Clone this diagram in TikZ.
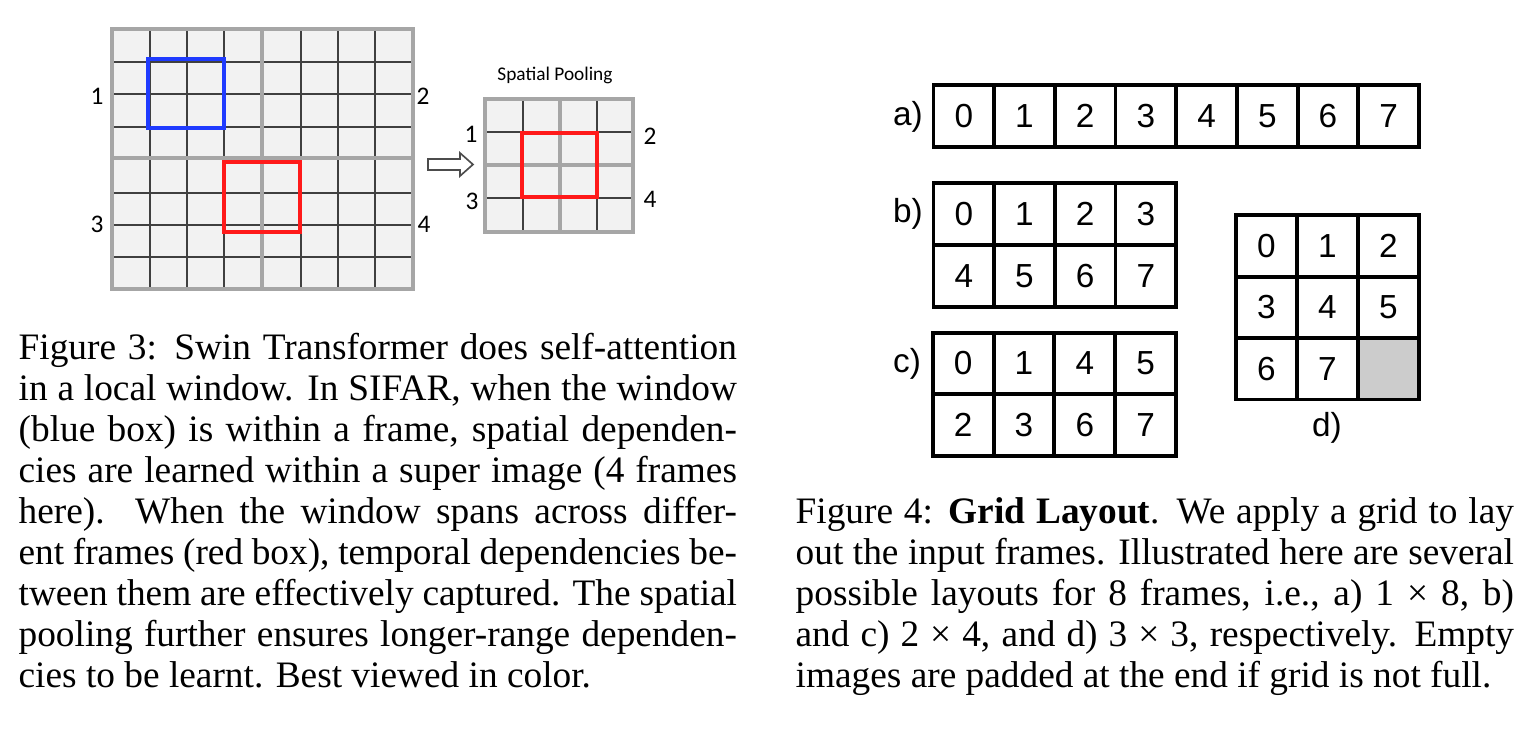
\documentclass[tikz,border=0pt]{standalone}
\usepackage{fontspec}
\setmainfont{Liberation Serif}
\newfontfamily\helvfont{Liberation Sans}
\newfontfamily\calibfont{Carlito}
\definecolor{framegray}{HTML}{A6A6A6}
\definecolor{cellfill}{HTML}{F2F2F2}
\definecolor{winblue}{HTML}{1F3BFF}
\definecolor{winred}{HTML}{FF1A1A}
\definecolor{padgray}{HTML}{CCCCCC}
\tikzset{
  cell/.style={draw, line width=1.15pt, minimum width=18.2pt, minimum height=18.5pt, inner sep=0pt, font=\helvfont\fontsize{10}{12}\selectfont},
  tag/.style={inner sep=0pt, font=\helvfont\fontsize{10}{12}\selectfont},
  fnum/.style={inner sep=0pt, font=\calibfont\fontsize{7.6}{8}\selectfont},
  gridline/.style={line width=0.45pt, black!75},
  frameline/.style={line width=1.2pt, framegray},
  window/.style={line width=1.2pt},
  caption/.style={anchor=base west, inner sep=0pt, text width=215.5pt, align=justify, font=\fontsize{11.2}{12.3}\selectfont}
}
\begin{document}
\begin{tikzpicture}[x=0.3pt,y=-0.3pt]
\useasboundingbox (0,0) rectangle (1532,731);
\fill[cellfill] (112,29) rectangle (413,289);
\foreach \x in {150,187,224,301,338,375} \draw[gridline] (\x,29) -- (\x,289);
\foreach \y in {62,94,127,193,225,257} \draw[gridline] (112,\y) -- (413,\y);
\draw[frameline] (112,29) rectangle (413,289) (262,29) -- (262,289) (112,158) -- (413,158);
\draw[window,winblue] (148,59) rectangle (224,128);
\draw[window,winred] (224,162) rectangle (300,232);
\node[fnum] (s1) at (97,96) {1};
\node[fnum] (s2) at (423,96) {2};
\node[fnum] (s3) at (97,224) {3};
\node[fnum] (s4) at (424,224) {4};
\draw[line width=0.5pt, black!70] (428,159) -- (460,159) -- (460,153) -- (473,164.5) -- (460,176) -- (460,170) -- (428,170) -- cycle;
\node[fnum, font=\calibfont\fontsize{5.8}{7}\selectfont] (pool) at (555,75) {Spatial Pooling};
\fill[cellfill] (485,99) rectangle (633,232);
\foreach \x in {523,597} \draw[gridline] (\x,99) -- (\x,232);
\foreach \y in {132,198} \draw[gridline] (485,\y) -- (633,\y);
\draw[frameline] (485,99) rectangle (633,232) (560,99) -- (560,232) (485,165) -- (633,165);
\draw[window,winred] (522,133) rectangle (597,197);
\node[fnum] (p1) at (471,134) {1};
\node[fnum] (p2) at (650,136) {2};
\node[fnum] (p3) at (472,201) {3};
\node[fnum] (p4) at (650,199) {4};
\foreach \i in {0,...,7} \node[cell] (a\i) at (963.8+60.7*\i,116) {\i};
\foreach \i [evaluate=\i as \c using {int(mod(\i,4))}, evaluate=\i as \r using {int(\i/4)}] in {0,...,7}
  \node[cell] (b\i) at (963.8+60.7*\c,214+62*\r) {\i};
\foreach \v [count=\i from 0, evaluate=\i as \c using {int(mod(\i,4))}, evaluate=\i as \r using {int(\i/4)}] in {0,1,4,5,2,3,6,7}
  \node[cell] (c\i) at (963.2+60.8*\c,363.5+61.5*\r) {\v};
\foreach \i [evaluate=\i as \c using {int(mod(\i,3))}, evaluate=\i as \r using {int(\i/3)}] in {0,...,7}
  \node[cell] (d\i) at (1266.5+61*\c,246+61.3*\r) {\i};
\node[cell, fill=padgray] (d8) at (1388.5,368.6) {};
\node[tag] (la) at (908,117) {a)};
\node[tag] (lb) at (908,214) {b)};
\node[tag] (lc) at (907,364) {c)};
\node[tag] (ld) at (1327,428) {d)};
\node[caption] (cap3) at (18,360) {Figure 3: Swin Transformer does self-attention\linebreak
in a local window. In SIFAR, when the window\linebreak
(blue box) is within a frame, spatial dependen-\linebreak
cies are learned within a super image (4 frames\linebreak
here). When the window spans across differ-\linebreak
ent frames (red box), temporal dependencies be-\linebreak
tween them are effectively captured. The spatial\linebreak
pooling further ensures longer-range dependen-\linebreak
cies to be learnt. Best viewed in color.};
\node[caption] (cap4) at (795,524) {Figure 4: \textbf{Grid Layout}. We apply a grid to lay\linebreak
out the input frames. Illustrated here are several\linebreak
possible layouts for 8 frames, i.e., a)~1~×~8, b)\linebreak
and c) 2~×~4, and d) 3~×~3, respectively. Empty\linebreak
images are padded at the end if grid is not full.};
\end{tikzpicture}
\end{document}
